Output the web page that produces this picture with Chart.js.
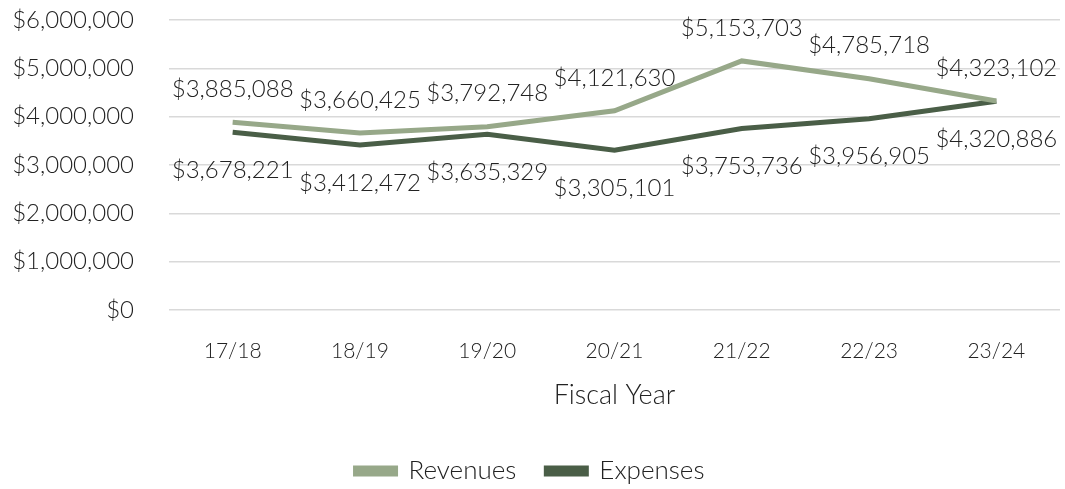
<!DOCTYPE html>
<html>
<head>
<meta charset="utf-8">
<script src="https://cdn.jsdelivr.net/npm/chart.js@4/dist/chart.umd.min.js"></script>
<style>
  html, body { margin: 0; padding: 0; background: #fff; }
  #wrap { width: 1065px; height: 489px; }
</style>
</head>
<body>
<div id="wrap"><canvas id="lineChart" width="1065" height="489"></canvas></div>
<script>
// data
var years = ["17/18", "18/19", "19/20", "20/21", "21/22", "22/23", "23/24"];
var revenues = [3885088, 3660425, 3792748, 4121630, 5153703, 4785718, 4323102];
var expenses = [3678221, 3412472, 3635329, 3305101, 3753736, 3956905, 4320886];

var revColor = "#97a889";
var expColor = "#4a5e47";
var fontFamily = "Lato, 'Open Sans', sans-serif";

var money = v => "$" + v.toLocaleString("en-US");

// draws the value labels, revenues above and expenses below the line
var valueLabels = {
    id: "valueLabels",
    afterDatasetsDraw(chart) {
        var ctx = chart.ctx;
        ctx.save();
        ctx.font = "300 24px " + fontFamily;
        ctx.fillStyle = "#222";
        ctx.textAlign = "center";
        ctx.textBaseline = "middle";
        chart.data.datasets.forEach((ds, i) => {
            var meta = chart.getDatasetMeta(i);
            meta.data.forEach((pt, j) => {
                var dy = i === 0 ? -33 : 38;
                ctx.fillText(money(ds.data[j]), pt.x, pt.y + dy);
            });
        });
        ctx.restore();
    }
};

Chart.defaults.font.family = fontFamily;
Chart.defaults.font.weight = 300;
Chart.defaults.color = "#222";

var ctxL = document.getElementById("lineChart").getContext("2d");
var myLineChart = new Chart(ctxL, {
    type: "line",
    data: {
        labels: years,
        datasets: [{
            label: "Revenues",
            data: revenues,
            borderColor: revColor,
            backgroundColor: revColor,
            borderWidth: 5,
            pointRadius: 0,
            tension: 0
        }, {
            label: "Expenses",
            data: expenses,
            borderColor: expColor,
            backgroundColor: expColor,
            borderWidth: 5,
            pointRadius: 0,
            tension: 0
        }]
    },
    options: {
        responsive: false,
        animation: false,
        layout: { padding: { top: 20, right: 5, left: 0, bottom: -5 } },
        plugins: {
            legend: {
                position: "bottom",
                labels: {
                    boxWidth: 40,
                    boxHeight: 6,
                    padding: 30,
                    font: { size: 26, weight: 300 }
                }
            },
            tooltip: { enabled: false }
        },
        scales: {
            x: {
                offset: true,
                grid: { display: false },
                border: { display: false },
                ticks: { font: { size: 21, weight: 300 }, padding: 21 },
                title: {
                    display: true,
                    text: "Fiscal Year",
                    font: { size: 27, weight: 300 },
                    padding: { top: 0, bottom: 17 }
                },
                afterFit: s => { s.height = 118; }
            },
            y: {
                min: 0,
                max: 6000000,
                ticks: {
                    stepSize: 1000000,
                    padding: 35,
                    font: { size: 24, weight: 300 },
                    callback: v => money(v)
                },
                grid: { color: "#d9d9d9", lineWidth: 1.5, drawTicks: false },
                border: { display: false },
                afterFit: s => {
                    s.width = 169;
                    s.paddingTop = 0;
                    s.paddingBottom = 0;
                }
            }
        }
    },
    plugins: [valueLabels]
});
</script>
</body>
</html>
